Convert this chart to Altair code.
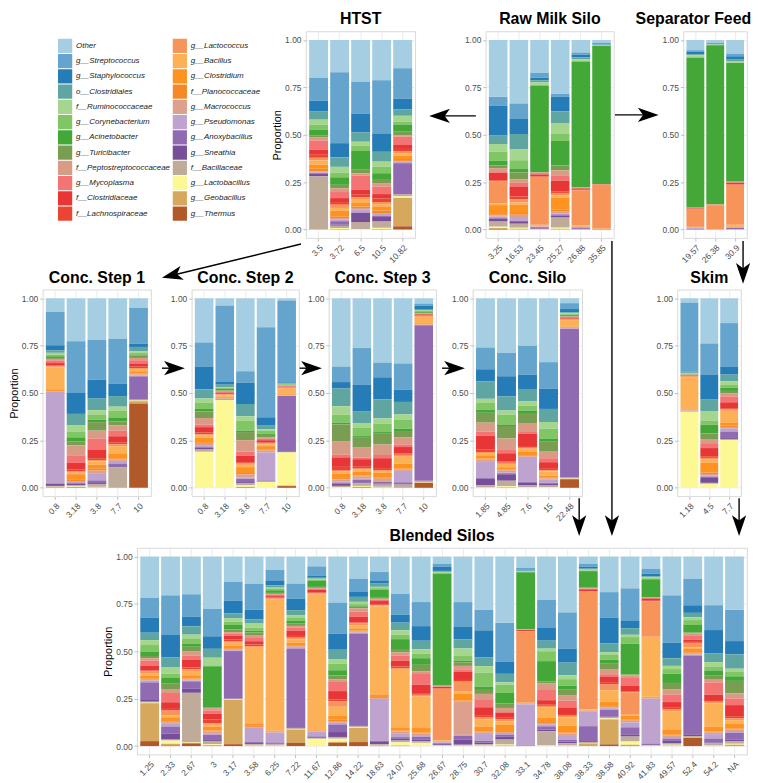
import math
import altair as alt
import pandas as pd

FONT = "Liberation Sans"

TAXA = ["Other", "g__Streptococcus", "g__Staphylococcus", "o__Clostridiales",
        "f__Ruminococcaceae", "g__Corynebacterium", "g__Acinetobacter", "g__Turicibacter",
        "f__Peptostreptococcaceae", "g__Mycoplasma", "f__Clostridiaceae", "f__Lachnospiraceae",
        "g__Lactococcus", "g__Bacillus", "g__Clostridium", "f__Planococcaceae",
        "g__Macrococcus", "g__Pseudomonas", "g__Anoxybacillus", "g__Sneathia",
        "f__Bacillaceae", "g__Lactobacillus", "g__Geobacillus", "g__Thermus"]
COLORS = ["#A6CEE3", "#65A5CD", "#257CB6", "#5FA5A2", "#A5D68E", "#80C665", "#44A838", "#799E52",
          "#D89B86", "#F47373", "#E83637", "#EA4532", "#F69459", "#FDB157", "#FE9322", "#F68825",
          "#DCA08C", "#BEA3CE", "#906BB2", "#774E9A", "#BEAB99", "#FCF894", "#D6A85E", "#B15928"]

# values per sample, in legend order (Other ... g__Thermus)
HTST = [
    ("3.5",   [.20, .12, .055, .045, .026, .026, .03, .01, .018, .049, .026, .016, .014, .023, .021, .014, .004, .005, .004, .013, .28, 0, 0, 0]),
    ("3.72",  [.17, .375, .075, .05, .03, .025, .04, .018, .02, .032, .021, .014, .017, .014, .03, .009, .009, .008, .018, .006, .012, .005, .003, 0]),
    ("6.5",   [.22, .168, .10, .049, .021, .028, .099, .018, .012, .075, .026, .014, .013, .017, .018, .008, .009, .015, .003, .047, .037, .003, 0, 0]),
    ("10.5",  [.213, .28, .097, .052, .026, .035, .035, .017, .018, .04, .024, .018, .014, .012, .019, .013, .005, .01, .002, .028, .033, .006, .003, 0]),
    ("10.82", [.149, .161, .055, .035, .032, .014, .038, .018, .008, .044, .021, .011, .012, .012, .018, .01, .004, .008, .163, .002, .01, .008, .15, .017]),
]
RAW_MILK = [
    ("3.25",  [.30, .048, .154, .047, .04, .049, .024, .014, .021, .003, .04, .005, .117, .009, .048, .006, .007, .008, .004, .014, .027, .007, .005, .003]),
    ("16.53", [.335, .082, .079, .083, .056, .044, .021, .036, .018, .02, .053, .014, .017, .012, .044, .009, .012, .021, .005, .01, .02, .006, .004, 0]),
    ("23.45", [.174, .026, .014, .009, .014, .003, .457, .003, .003, .007, .01, .003, .253, .004, .002, .002, .002, .002, .003, .006, .003, .001, 0, 0]),
    ("25.27", [.284, .016, .076, .065, .052, .04, .129, .026, .026, .028, .056, .009, .012, .014, .061, .012, .009, .005, .007, .01, .053, .006, .004, 0]),
    ("26.88", [.066, .012, .014, .009, .009, .003, .664, .002, .002, .002, .007, .003, .183, .004, .003, .002, .002, .003, .004, .004, .002, 0, 0, 0]),
    ("35.85", [.014, .009, .002, .002, .002, .003, .731, .001, .001, .001, .001, .001, .232, .001, .001, 0, 0, .001, .001, .001, 0, 0, 0, 0]),
]
SEP_FEED = [
    ("19.57", [.054, .009, .012, .005, .011, .003, .79, .002, .002, .002, .004, .002, .091, .002, .002, .001, .001, .005, .002, .001, 0, 0, 0, 0]),
    ("26.38", [.014, .007, .002, .001, .003, .001, .839, .001, .001, .001, .001, .001, .128, 0, 0, 0, 0, 0, 0, 0, 0, 0, 0, 0]),
    ("30.9",  [.072, .014, .015, .01, .007, .003, .626, .002, .002, .002, .008, .003, .211, .004, .005, .002, .002, .003, .002, .005, .002, 0, 0, 0]),
]
STEP1 = [
    ("0.8",  [.072, .176, .026, .014, .009, .009, .009, .005, .008, .014, .012, .005, .005, .116, .009, .003, .003, .482, .003, .01, .005, .003, 0, .002]),
    ("3.18", [.228, .27, .114, .059, .034, .031, .021, .022, .052, .04, .034, .012, .006, .008, .03, .006, .005, .006, .004, .008, .006, .003, .002, .002]),
    ("3.8",  [.219, .21, .10, .061, .022, .029, .012, .045, .042, .057, .046, .01, .007, .017, .022, .009, .014, .038, .014, .007, .013, .003, .002, 0]),
    ("7.7",  [.214, .238, .064, .056, .022, .035, .021, .021, .028, .029, .034, .009, .009, .038, .026, .005, .009, .014, .014, .005, .109, 0, 0, 0]),
    ("10",   [.05, .19, .017, .022, .009, .01, .005, .012, .012, .017, .017, .007, .005, .012, .012, .005, .005, .005, .12, .003, .005, .003, .012, .445]),
]
STEP2 = [
    ("0.8",  [.233, .127, .121, .048, .021, .034, .014, .034, .034, .014, .029, .009, .005, .012, .028, .005, .007, .008, .005, .01, .012, .19, 0, 0]),
    ("3.18", [.038, .401, .017, .012, .005, .005, .008, .003, .005, .005, .005, .003, .005, .008, .005, .003, .003, .002, .002, .001, .002, .462, 0, 0]),
    ("3.8",  [.385, .06, .113, .065, .024, .052, .007, .043, .06, .022, .034, .007, .007, .012, .031, .007, .017, .007, .017, .007, .01, .008, .003, .002]),
    ("7.7",  [.153, .475, .041, .022, .009, .014, .007, .014, .007, .007, .012, .005, .005, .009, .017, .005, .012, .147, .003, .003, .002, .031, 0, 0]),
    ("10",   [.012, .431, .005, .003, .002, .002, .003, .002, .003, .003, .003, .002, .005, .026, .005, .003, .003, .002, .293, .002, .002, .174, .003, .009]),
]
STEP3 = [
    ("0.8",  [.361, .08, .034, .093, .045, .041, .01, .09, .069, .014, .05, .02, .005, .01, .024, .007, .012, .005, .005, .012, .007, .003, 0, 0]),
    ("3.18", [.263, .195, .138, .063, .026, .043, .009, .052, .052, .009, .04, .01, .005, .012, .019, .005, .012, .005, .014, .005, .014, .005, .003, .002]),
    ("3.8",  [.341, .076, .117, .10, .029, .043, .009, .057, .055, .017, .052, .01, .005, .01, .026, .005, .012, .005, .009, .005, .012, .003, .002, 0]),
    ("7.7",  [.344, .138, .065, .066, .029, .046, .017, .028, .038, .014, .034, .007, .007, .04, .026, .005, .007, .06, .005, .007, .017, 0, 0, 0]),
    ("10",   [.028, .012, .017, .005, .005, .005, .005, .003, .002, .003, .005, .003, .005, .034, .005, .002, .002, .002, .819, .002, .005, .003, .002, .026]),
]
CONC_SILO = [
    ("1.85",  [.26, .115, .063, .093, .022, .035, .017, .052, .047, .022, .074, .012, .005, .012, .017, .005, .009, .087, .005, .035, .012, .002, 0, 0]),
    ("4.85",  [.289, .122, .107, .074, .022, .055, .005, .066, .057, .021, .043, .007, .007, .017, .012, .005, .009, .005, .005, .035, .029, .005, .003, 0]),
    ("7.6",   [.251, .152, .076, .066, .021, .028, .012, .052, .047, .01, .064, .01, .005, .017, .017, .005, .005, .13, .005, .012, .012, .003, 0, 0]),
    ("15",    [.337, .14, .107, .069, .035, .052, .014, .052, .038, .021, .035, .007, .007, .021, .01, .005, .007, .017, .005, .009, .009, .003, 0, 0]),
    ("22.48", [.026, .031, .017, .005, .005, .005, .005, .003, .002, .003, .005, .003, .005, .035, .005, .002, .002, .002, .783, .002, .005, .002, .002, .045]),
]
SKIM = [
    ("1.18", [.022, .366, .002, .006, .002, .002, .002, .001, .002, .002, .002, .002, .008, .167, .003, .002, .002, .002, .001, .001, .002, .401, 0, 0]),
    ("4.5",  [.239, .164, .133, .063, .047, .022, .047, .029, .022, .026, .043, .009, .009, .017, .052, .007, .007, .009, .005, .026, .005, .021, 0, 0]),
    ("7.7",  [.131, .229, .043, .035, .017, .017, .017, .012, .017, .031, .031, .007, .007, .061, .017, .007, .007, .017, .035, .005, .005, .252, 0, 0]),
]
BLENDED = [
    ("1.25",  [.219, .103, .08, .039, .026, .035, .023, .012, .012, .026, .026, .005, .009, .014, .016, .005, .005, .009, .093, .009, .005, .003, .2, .026]),
    ("2.33",  [.205, .209, .117, .052, .035, .023, .03, .028, .021, .049, .035, .009, .026, .009, .021, .005, .009, .014, .038, .031, .005, .017, .009, .003]),
    ("2.67",  [.20, .118, .052, .044, .023, .024, .017, .023, .023, .024, .04, .009, .009, .023, .017, .005, .005, .005, .04, .021, .262, .003, .003, .014]),
    ("3",     [.277, .144, .066, .047, .04, .005, .216, .005, .012, .017, .03, .02, .009, .009, .021, .005, .009, .009, .023, .009, .017, .005, .005, 0]),
    ("3.17",  [.134, .10, .065, .028, .017, .017, .024, .014, .009, .009, .02, .009, .009, .017, .012, .005, .005, .005, .25, .002, .002, .003, .234, .01]),
    ("3.58",  [.143, .137, .052, .021, .021, .017, .009, .017, .012, .017, .017, .009, .005, .401, .014, .005, .005, .075, .005, .005, .005, .003, .003, 0]),
    ("6.25",  [.07, .056, .026, .012, .007, .007, .014, .005, .005, .007, .007, .005, .005, .692, .005, .003, .003, .052, .005, .005, .005, .002, .002, 0]),
    ("7.22",  [.143, .079, .061, .026, .012, .017, .014, .014, .009, .016, .028, .009, .009, .017, .014, .005, .005, .009, .414, .005, .005, .002, .07, .017]),
    ("11.67", [.052, .048, .012, .005, .005, .007, .031, .005, .005, .005, .014, .005, .005, .711, .005, .003, .003, .026, .005, .005, .003, .038, 0, 0]),
    ("12.86", [.243, .165, .084, .049, .024, .035, .028, .021, .009, .052, .044, .009, .03, .045, .021, .009, .009, .009, .04, .026, .009, .017, .005, .017]),
    ("14.22", [.117, .07, .026, .026, .012, .009, .005, .009, .017, .026, .031, .005, .009, .017, .012, .005, .005, .005, .485, .005, .005, .003, .075, .021]),
    ("18.63", [.082, .044, .017, .017, .007, .007, .044, .005, .005, .007, .017, .005, .005, .465, .014, .005, .005, .222, .005, .012, .005, .003, 0, .002]),
    ("24.07", [.197, .11, .042, .04, .023, .024, .052, .017, .017, .028, .03, .009, .009, .303, .017, .005, .009, .021, .009, .009, .009, .017, .003, 0]),
    ("25.68", [.24, .127, .077, .045, .024, .023, .035, .035, .009, .061, .044, .009, .009, .166, .023, .005, .009, .009, .014, .009, .009, .017, 0, 0]),
    ("26.67", [.038, .017, .021, .005, .005, .003, .59, .003, .003, .003, .007, .003, .271, .003, .003, .002, .003, .005, .005, .005, .003, .002, 0, 0]),
    ("28.75", [.24, .131, .066, .047, .04, .024, .009, .019, .021, .009, .044, .009, .052, .01, .038, .005, .175, .005, .021, .026, .005, .002, 0, 0]),
    ("30.7",  [.28, .108, .143, .045, .035, .073, .017, .021, .028, .042, .045, .009, .009, .038, .026, .005, .009, .035, .009, .009, .005, .003, .002, 0]),
    ("32.08", [.35, .204, .065, .045, .012, .044, .056, .023, .017, .009, .026, .009, .009, .017, .035, .005, .005, .009, .009, .017, .026, .005, .003, 0]),
    ("33.1",  [.059, .01, .005, .003, .003, .003, .299, .002, .002, .002, .005, .002, .376, .003, .002, .002, .002, .213, .003, .002, .002, 0, 0, 0]),
    ("34.78", [.229, .145, .07, .042, .014, .052, .108, .01, .03, .058, .021, .009, .009, .052, .024, .005, .009, .009, .017, .009, .075, .003, 0, 0]),
    ("38.08", [.295, .192, .073, .066, .021, .035, .021, .028, .03, .035, .035, .009, .009, .044, .035, .005, .009, .026, .009, .009, .009, .003, .002, 0]),
    ("38.33", [.038, .017, .009, .005, .005, .003, .087, .003, .003, .003, .009, .003, .62, .003, .003, .002, .003, .079, .079, .005, .005, .002, .014, 0]),
    ("38.58", [.187, .135, .133, .047, .012, .028, .021, .031, .024, .014, .031, .009, .03, .061, .023, .005, .005, .009, .035, .005, .005, .005, .131, .009]),
    ("40.92", [.168, .169, .041, .035, .012, .035, .162, .005, .014, .042, .028, .005, .119, .005, .021, .005, .009, .026, .04, .009, .026, .017, .005, .002]),
    ("41.83", [.065, .026, .014, .005, .005, .005, .093, .003, .003, .005, .009, .003, .187, .317, .005, .002, .003, .236, .005, .005, .002, .002, 0, 0]),
    ("49.57", [.205, .25, .082, .04, .017, .024, .049, .035, .026, .04, .03, .009, .009, .096, .026, .005, .009, .009, .009, .014, .009, .005, .002, 0]),
    ("52.4",  [.117, .14, .04, .024, .014, .026, .04, .005, .009, .023, .012, .005, .024, .005, .023, .005, .005, .005, .415, .009, .005, .002, .002, .044]),
    ("54.2",  [.257, .131, .122, .047, .023, .021, .028, .021, .014, .065, .028, .009, .009, .122, .026, .005, .009, .023, .021, .005, .009, .003, .002, 0]),
    ("NA",    [.28, .164, .07, .075, .017, .023, .024, .066, .026, .035, .058, .012, .009, .017, .026, .005, .009, .009, .035, .009, .014, .005, .005, .002]),
]

H = 208          # plot height of every panel
G = 52           # vertical gap between rows
R2 = H + G
R3 = 2 * (H + G)

color_enc = alt.Color("taxon:N", scale=alt.Scale(domain=TAXA, range=COLORS), legend=None)


def panel(title, samples, width, ytitle=False, title_dx=0):
    recs = []
    for lab, vals in samples:
        for i, v in enumerate(vals):
            recs.append({"sample": lab, "taxon": TAXA[i], "value": v, "rank": len(TAXA) - 1 - i})
    df = pd.DataFrame(recs)
    labels = [s for s, _ in samples]
    yax = dict(values=[0, 0.25, 0.5, 0.75, 1], labelExpr="format(datum.value, '.2f')",
               gridColor="#ebebeb", titlePadding=2)
    yax["title"] = "Proportion" if ytitle else None
    tparams = dict(text=title, anchor="middle")
    if title_dx:
        tparams["dx"] = title_dx
    return alt.Chart(df).mark_bar().encode(
        x=alt.X("sample:N", sort=labels,
                scale=alt.Scale(paddingInner=0.1, paddingOuter=0.15),
                axis=alt.Axis(title=None, labelAngle=-45, labelAlign="right", labelBaseline="top",
                              bandPosition=0.5, grid=True, gridColor="#ebebeb", labelOverlap=False)),
        y=alt.Y("value:Q", stack="normalize",
                scale=alt.Scale(domain=[-0.045, 1.045], nice=False, zero=False),
                axis=alt.Axis(**yax)),
        color=color_enc,
        order=alt.Order("rank:Q"),
    ).properties(width=width, height=H, title=alt.Title(**tparams))


def spacer(w):
    return alt.Chart(pd.DataFrame({"v": [0]})).mark_point(opacity=0).encode(
        x=alt.value(0), y=alt.value(0)
    ).properties(width=w, height=H, view=alt.ViewBackground(stroke="transparent"))


# legend block
leg = pd.DataFrame({"taxon": TAXA,
                    "col": [i // 12 for i in range(len(TAXA))],
                    "row": [i % 12 for i in range(len(TAXA))]})
lx = alt.X("col:Q", scale=alt.Scale(domain=[0, 1], range=[22.5, 138]), axis=None)
ly = alt.Y("row:Q", scale=alt.Scale(domain=[0, 11], range=[14.5, 183.4]), axis=None)
keys = alt.Chart(leg).mark_square(size=205, opacity=1).encode(x=lx, y=ly, color=color_enc)
texts = alt.Chart(leg).mark_text(align="left", dx=11, fontSize=8, fontStyle="italic",
                                 font=FONT, color="#222222").encode(x=lx, y=ly, text="taxon:N")

# flow arrows (pixel layout relative to the legend block origin)
ARROWS = [
    (436, 85, 389, 85),              # Raw Milk Silo -> HTST
    (576, 84, 620, 84),              # Raw Milk Silo -> Separator Feed
    (260, H + 6, 120, R2 - 12),      # HTST -> Conc. Step 1
    (120, R2 + 79, 143, R2 + 79),    # Step 1 -> Step 2
    (258, R2 + 79, 281, R2 + 79),    # Step 2 -> Step 3
    (402, R2 + 79, 425, R2 + 79),    # Step 3 -> Conc. Silo
    (573, H + 3, 573, R3 - 12),      # Raw Milk Silo -> Blended
    (540, R2 + H + 2, 540, R3 - 12),  # Conc. Silo -> Blended
    (705, H + 3, 705, R2 - 6),       # Separator Feed -> Skim
    (701, R2 + H + 2, 701, R3 - 12),  # Skim -> Blended
]
HEAD = 22
rows = []
for x0, y0, x1, y1 in ARROWS:
    d = math.hypot(x1 - x0, y1 - y0)
    ux, uy = (x1 - x0) / d, (y1 - y0) / d
    cx, cy = x1 - ux * HEAD / 2, y1 - uy * HEAD / 2
    ang = math.degrees(math.atan2(ux, -uy)) % 360
    rows.append({"x": x0, "y": y0, "x2": cx, "y2": cy, "ang": ang})
arr = pd.DataFrame(rows)
ARROW_PATH = "M0,-1 L0.65,0.9 L0,0.42 L-0.65,0.9 Z"
lines = alt.Chart(arr).mark_rule(color="black", strokeWidth=1.4).encode(
    x=alt.X("x:Q", scale=None, axis=None), y=alt.Y("y:Q", scale=None, axis=None),
    x2="x2:Q", y2="y2:Q")
heads = alt.Chart(arr).mark_point(shape=ARROW_PATH, filled=True, color="black", opacity=1,
                                  size=HEAD * HEAD, strokeWidth=0).encode(
    x=alt.X("x2:Q", scale=None, axis=None), y=alt.Y("y2:Q", scale=None, axis=None),
    angle=alt.Angle("ang:Q", scale=None))

legend_cell = alt.layer(keys, texts, lines, heads).resolve_scale(
    x="independent", y="independent").properties(
    width=265, height=H, view=alt.ViewBackground(stroke="transparent"))

row1 = alt.hconcat(legend_cell, panel("HTST", HTST, 110, ytitle=True), spacer(71),
                   panel("Raw Milk Silo", RAW_MILK, 129), spacer(70),
                   panel("Separator Feed", SEP_FEED, 64, title_dx=-22),
                   spacing=0, bounds="flush")
row2 = alt.hconcat(panel("Conc. Step 1", STEP1, 109, ytitle=True), spacer(41),
                   panel("Conc. Step 2", STEP2, 108), spacer(30),
                   panel("Conc. Step 3", STEP3, 108), spacer(37),
                   panel("Conc. Silo", CONC_SILO, 110), spacer(96),
                   panel("Skim", SKIM, 64),
                   spacing=0, bounds="flush")
row3 = alt.hconcat(spacer(95), panel("Blended Silos", BLENDED, 614, ytitle=True),
                   spacing=0, bounds="flush")

chart = alt.vconcat(row1, row2, row3, spacing=H + G, bounds="flush", padding=0)
chart = chart.configure_view(stroke="#cfcfcf", strokeWidth=0.8).configure_axis(
    labelFont=FONT, labelFontSize=8.5, labelColor="#4d4d4d", tickColor="#bdbdbd", tickSize=3,
    domain=False, titleFont=FONT, titleFontSize=11, titleFontWeight="normal", titleColor="#000000",
    labelPadding=2).configure_title(font=FONT, fontSize=16, fontWeight="bold", anchor="middle",
                                    offset=0, color="#000000")

chart.save("out.html", embed_options={"renderer": "svg", "actions": False})
